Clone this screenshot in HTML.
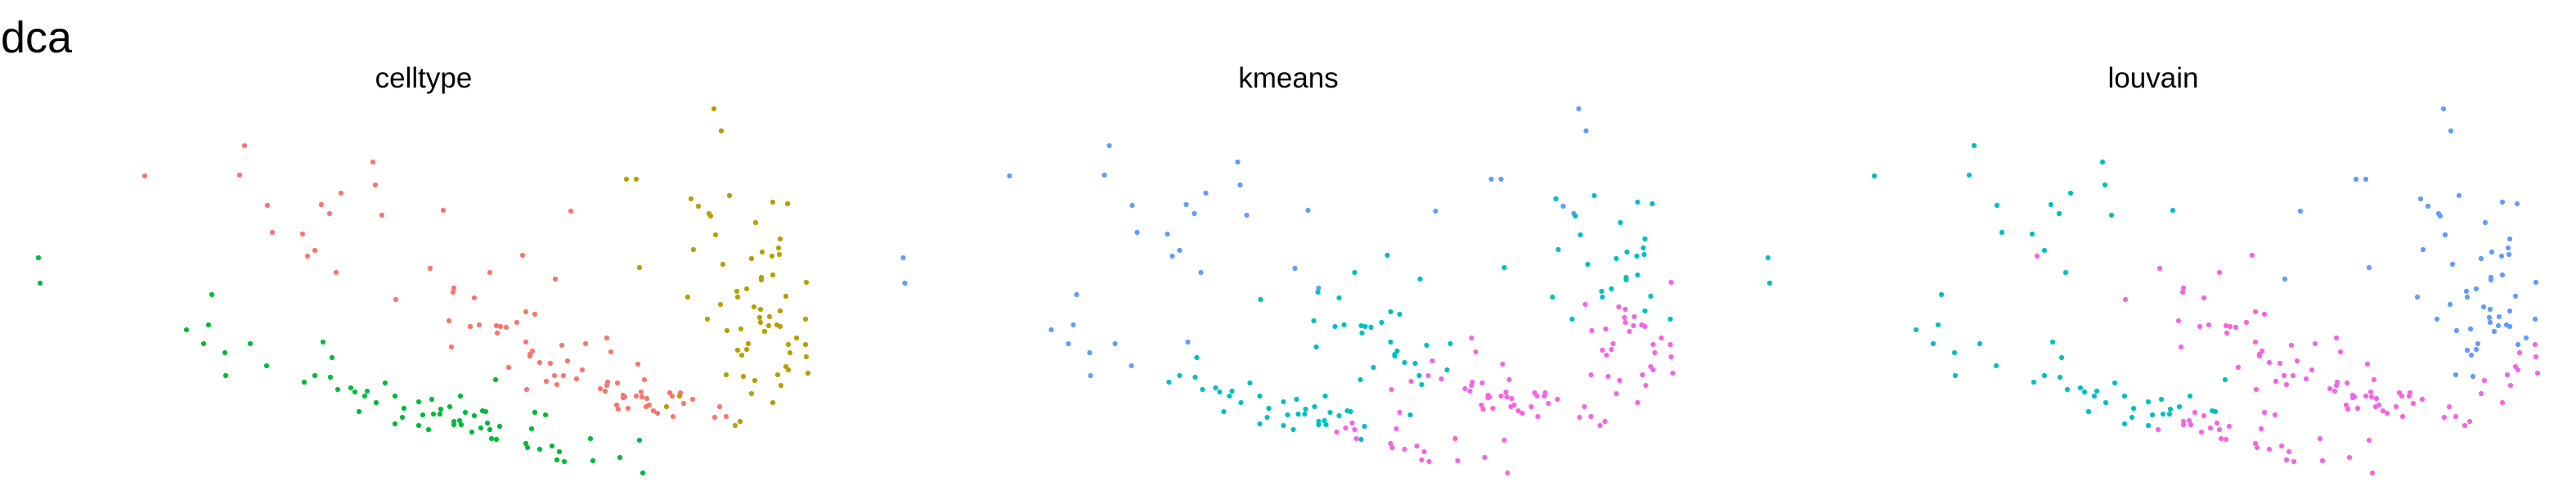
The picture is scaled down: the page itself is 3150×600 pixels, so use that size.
<!DOCTYPE html>
<html><head><meta charset="utf-8"><title>dca</title>
<style>
html,body{margin:0;padding:0;background:#fff;}
svg{display:block;font-family:"Liberation Sans",Arial,sans-serif;}
</style></head>
<body>
<svg id="chart" width="3150" height="600" viewBox="0 0 3150 600" xmlns="http://www.w3.org/2000/svg">
<rect width="3150" height="600" fill="#fff"/>
<text x="1" y="64" font-size="54" fill="#000">dca</text>
<g id="panels"></g>
</svg>
<script>
const panelTitles = ["celltype", "kmeans", "louvain"];
const dim1 = [
2.99,1.77,2.93,4.56,4.59,4.17,3.27,3.93,4.03,4.67,3.33,3.70,3.85,3.76,4.11,4.84,
0.47,0.49,2.59,2.55,2.28,2.49,3.06,2.75,3.26,2.76,3.95,4.06,3.85,4.04,3.72,4.13,4.29,4.34,4.49,4.46,4.71,4.60,4.39,4.83,4.94,4.92,4.83,5.12,5.17,5.12,
5.42,6.98,6.39,5.26,5.99,6.79,5.55,5.54,5.80,6.43,6.54,5.49,5.75,5.86,6.07,6.12,6.19,6.32,6.08,5.52,6.43,6.87,7.16,7.42,7.47,6.51,6.48,6.48,6.60,6.73,6.94,7.12,6.22,6.78,6.89,7.05,6.68,6.81,6.44,7.34,7.40,7.43,7.42,7.55,7.80,7.88,7.62,7.64,7.62,7.78,7.84,7.85,7.91,7.54,7.56,7.68,7.90,7.94,7.99,8.04,8.19,8.22,8.32,8.36,8.47,8.23,8.80,8.74,8.88,
8.73,8.82,7.66,7.78,8.92,8.45,8.54,8.67,8.69,9.45,9.63,9.24,8.75,9.54,9.52,9.53,9.32,9.44,9.19,8.48,8.84,7.82,9.45,9.31,9.31,9.86,9.13,9.01,9.02,9.61,8.41,8.81,9.22,9.30,9.54,8.65,9.29,9.41,9.30,9.40,9.50,9.54,9.85,8.89,9.06,9.35,9.74,9.64,9.85,9.15,9.13,9.02,9.07,9.66,9.86,9.61,9.64,9.88,8.88,9.09,9.51,9.23,9.55,9.19,8.31,8.15,9.45,9.05,8.99,
5.28,5.30,5.38,5.39,5.24,5.50,5.63,5.69,5.80,5.55,5.55,5.62,5.64,5.77,5.90,5.94,5.88,5.96,5.99,6.11,6.01,6.07,6.06,6.54,6.67,6.50,6.43,6.45,6.60,6.75,6.84,6.81,6.90,7.22,7.25,7.58,7.82,7.86
];
const dim2 = [
4.22,3.85,3.86,4.02,3.74,3.64,3.49,3.50,3.39,3.37,3.16,3.14,2.94,2.87,2.67,2.34,
2.85,2.54,2.40,2.03,1.97,1.80,1.80,1.69,1.53,1.41,1.82,1.63,1.41,1.39,1.33,1.24,1.26,1.21,1.22,1.16,1.32,1.08,0.97,1.16,1.01,0.90,0.82,1.09,0.93,0.80,
3.43,3.42,2.88,2.72,2.67,2.59,2.48,2.43,2.36,2.19,2.16,2.08,2.01,2.03,2.02,2.01,2.00,2.06,1.93,1.76,1.82,1.78,1.80,1.87,1.70,1.71,1.67,1.65,1.57,1.56,1.59,1.48,1.51,1.41,1.41,1.37,1.34,1.30,1.24,1.25,1.22,1.33,1.29,1.32,1.55,1.36,1.17,1.15,1.14,1.16,1.21,1.15,1.13,1.05,1.00,1.01,1.03,1.05,0.98,0.95,1.20,1.16,1.20,1.07,1.12,0.91,1.03,0.90,0.91,
4.67,4.40,3.81,3.81,3.61,3.57,3.48,3.39,3.36,3.53,3.51,3.28,3.13,3.08,2.97,2.89,2.92,2.87,2.84,2.95,2.77,2.73,2.64,2.61,2.58,2.55,2.47,2.44,2.37,2.38,2.37,2.28,2.25,2.22,2.20,2.10,2.12,2.13,2.06,2.02,2.03,2.01,2.10,1.96,1.98,1.95,1.87,1.79,1.79,1.80,1.73,1.72,1.66,1.69,1.64,1.52,1.48,1.44,1.42,1.40,1.42,1.35,1.29,1.19,1.16,1.03,1.08,0.85,0.80,
1.12,0.94,0.94,1.00,0.75,1.03,1.16,0.96,0.92,0.85,0.81,0.86,0.81,0.72,0.98,0.97,0.77,0.83,0.75,0.79,0.64,0.63,1.36,0.96,0.93,0.76,0.58,0.53,0.51,0.55,0.48,0.38,0.36,0.64,0.37,0.41,0.62,0.22
];
const celltype = ("RRRRRRRRRRRRRRRR"+"GGGGGGGGGGGGGGGGGGGGGGGGGGGGGG"+
 "RRRRRRRRRRRRRRRRRRRRRRRRRRRRRRRRRRRRRRRRRRRRRRRRRRRRRRRRRRRRRRRRRRRRR"+
 "YYYYYYYYYYYYYYYYYYYYYYYYYYYYYYYYYYYYYYYYYYYYYYYYYYYYYYYYYYYYYYYYYYYYY"+
 "GGGGGGGGGGGGGGGGGGGGGGGGGGGGGGGGGGGGGG").split("");
const kmeans = ("BBBBBBBBBBBBBBBC"+"BBBBBBBBBBBCCCCCCCCCCCCCCCCCCC"+
 "BBCBCCBCCCCCCCCCCCCCCCCMMCCCCCMCCCMMMCMMMMMMMMMMMMMMMMMMMMMMMMMMMMMMM"+
 "BBBBCCBBCCCCCCCCCCCCCCCCCMCCCCCMMMCCMMMMMMCMMMMMMMMMMMMMMMMMMMMMMMMMM"+
 "CCCCCCCCCCCCCMCCMMMCMCCMCMMMMMMMMMMMMM").split("");
const louvain = ("CCCCCCCCCCCCCMCM"+"CCCCCCCCCCCCCCCCCCCCCCCCCCCCCC"+
 "CBMMMBMMMMMMMMMMMMMMMMMMMMMMMMMMMMMMMMMMMMMMMMMMMMMMMMMMMMMMMMMMMMMMM"+
 "BBBBBBBBBBBBBBBBBBBBBBBBBBBBBBBBBBBBBBBBBBBBBBBBMBBBBMMMMMBBMMMMMMMMM"+
 "CCCCMCCMMMMMMMCCMMMMMMCMMMMMMMMMMMMMMM").split("");
const palettes = {
  celltype: {R:"#F8766D", G:"#00BA38", Y:"#B79F00"},
  kmeans: {B:"#619CFF", C:"#00BFC4", M:"#F564E3"},
  louvain: {B:"#619CFF", C:"#00BFC4", M:"#F564E3"}
};
const panelOffsets = [0, 1057.5, 2115];
const groupsByPanel = {celltype: celltype, kmeans: kmeans, louvain: louvain};

function xScale(v, p){ return panelOffsets[p] + v*100; }
function yScale(v){ return 600 - v*100; }

const NS = "http://www.w3.org/2000/svg";
const root = document.getElementById("panels");
panelTitles.forEach(function(title, p){
  const g = document.createElementNS(NS, "g");
  
  
  const t = document.createElementNS(NS, "text");
  t.setAttribute("x", panelOffsets[p] + 518);
  t.setAttribute("y", 107);
  t.setAttribute("font-size", "35");
  t.setAttribute("text-anchor", "middle");
  t.setAttribute("fill", "#000");
  
  
  t.textContent = title;
  g.appendChild(t);
  const groups = groupsByPanel[title];
  const pal = palettes[title];
  for (let i = 0; i < dim1.length; i++) {
    const c = document.createElementNS(NS, "circle");
    c.setAttribute("cx", xScale(dim1[i], p).toFixed(1));
    c.setAttribute("cy", yScale(dim2[i]).toFixed(1));
    c.setAttribute("r", "3.1");
    c.setAttribute("fill", pal[groups[i]] || "#999");
    
    
    g.appendChild(c);
  }
  root.appendChild(g);
});
</script>
</body></html>
